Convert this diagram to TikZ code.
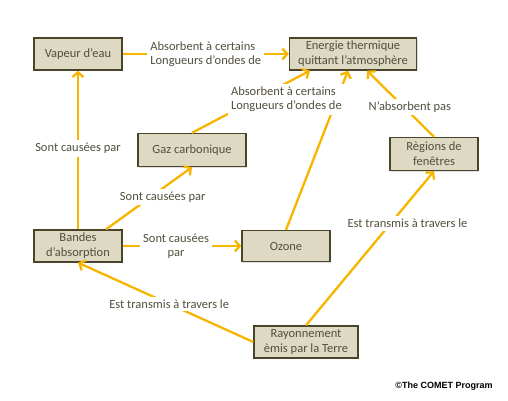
\documentclass[tikz,border=0pt]{standalone}
\usepackage{fontspec}
\setmainfont{Carlito}
\newfontfamily\creditfont{Liberation Sans}
\usepackage{xcolor}
\usepackage{tikz}
\usetikzlibrary{arrows.meta, positioning, shadows}

\definecolor{boxfill}{HTML}{DDD9C3}
\definecolor{boxline}{HTML}{4A452A}
\definecolor{arrowgold}{HTML}{F7B500}
\definecolor{textgray}{HTML}{524F3E}

\begin{document}
\begin{tikzpicture}[x=1pt, y=-1pt, >={Straight Barb[length=5pt, width=11pt]}]
    \tikzstyle{concept} = [rectangle, draw=boxline, line width=1.3pt, fill=boxfill, text=textgray, align=center, font=\fontsize{12.5}{15}\selectfont, inner sep=2pt, drop shadow={opacity=0.25, shadow xshift=1.2pt, shadow yshift=-1.2pt}]
    \tikzstyle{link} = [draw=arrowgold, line width=2.3pt]
    \tikzstyle{linklabel} = [fill=white, text=textgray, font=\fontsize{12.5}{14}\selectfont, inner sep=3pt]

    \useasboundingbox (0,0) rectangle (508,401);

    \node [concept, minimum width=88pt, minimum height=32pt] (vapeur) at (78,54) {Vapeur d’eau};
    \node [concept, minimum width=127pt, minimum height=32pt] (energie) at (353,54) {Energie thermique\\quittant l’atmosphère};
    \node [concept, minimum width=108pt, minimum height=33pt] (gaz) at (192,150) {Gaz carbonique};
    \node [concept, minimum width=88pt, minimum height=32pt] (bandes) at (78,246) {Bandes\\d’absorption};
    \node [concept, minimum width=88pt, minimum height=31pt] (ozone) at (286,246) {Ozone};
    \node [concept, minimum width=88pt, minimum height=33pt] (fenetres) at (434,154) {Règions de\\fenêtres};
    \node [concept, minimum width=104pt, minimum height=32pt] (rayonnement) at (306,342) {Rayonnement\\èmis par la Terre};

    % absorption links towards the thermal energy box
    \draw [link, ->] (vapeur.east) -- node[linklabel, align=left] {Absorbent à certains\\Longueurs d’ondes de} (energie.west);
    \draw [link, ->] (ozone.north) -- ([xshift=-5pt]energie.south);
    \draw [link, ->] (gaz.north) -- node[linklabel, align=left, pos=0.8, yshift=-16pt] {Absorbent à certains\\Longueurs d’ondes de} ([xshift=-43pt]energie.south);
    \draw [link, ->] (fenetres.north) -- node[linklabel, pos=0.45, xshift=6pt] {N’absorbent pas} ([xshift=14pt]energie.south);

    % causes of the absorption bands
    \draw [link, ->] (bandes.north) -- node[linklabel, pos=0.51] {Sont causées par} (vapeur.south);
    \draw [link, ->] ([xshift=28pt]bandes.north) -- node[linklabel, pos=0.52, xshift=12pt] {Sont causées par} (gaz.south);
    \draw [link, ->] (bandes.east) -- node[linklabel, align=center, pos=0.45] {Sont causées\\par} (ozone.west);

    % earth radiation
    \draw [link, ->] (rayonnement.north) -- node[linklabel, pos=0.66, xshift=17pt] {Est transmis à travers le} (fenetres.south);
    \draw [link, ->] (rayonnement.west) -- node[linklabel, pos=0.48] {Est transmis à travers le} (bandes.south);

    \node [font=\creditfont\bfseries\fontsize{9}{11}\selectfont, text=black] (credit) at (444,386) {©The COMET Program};
\end{tikzpicture}
\end{document}
